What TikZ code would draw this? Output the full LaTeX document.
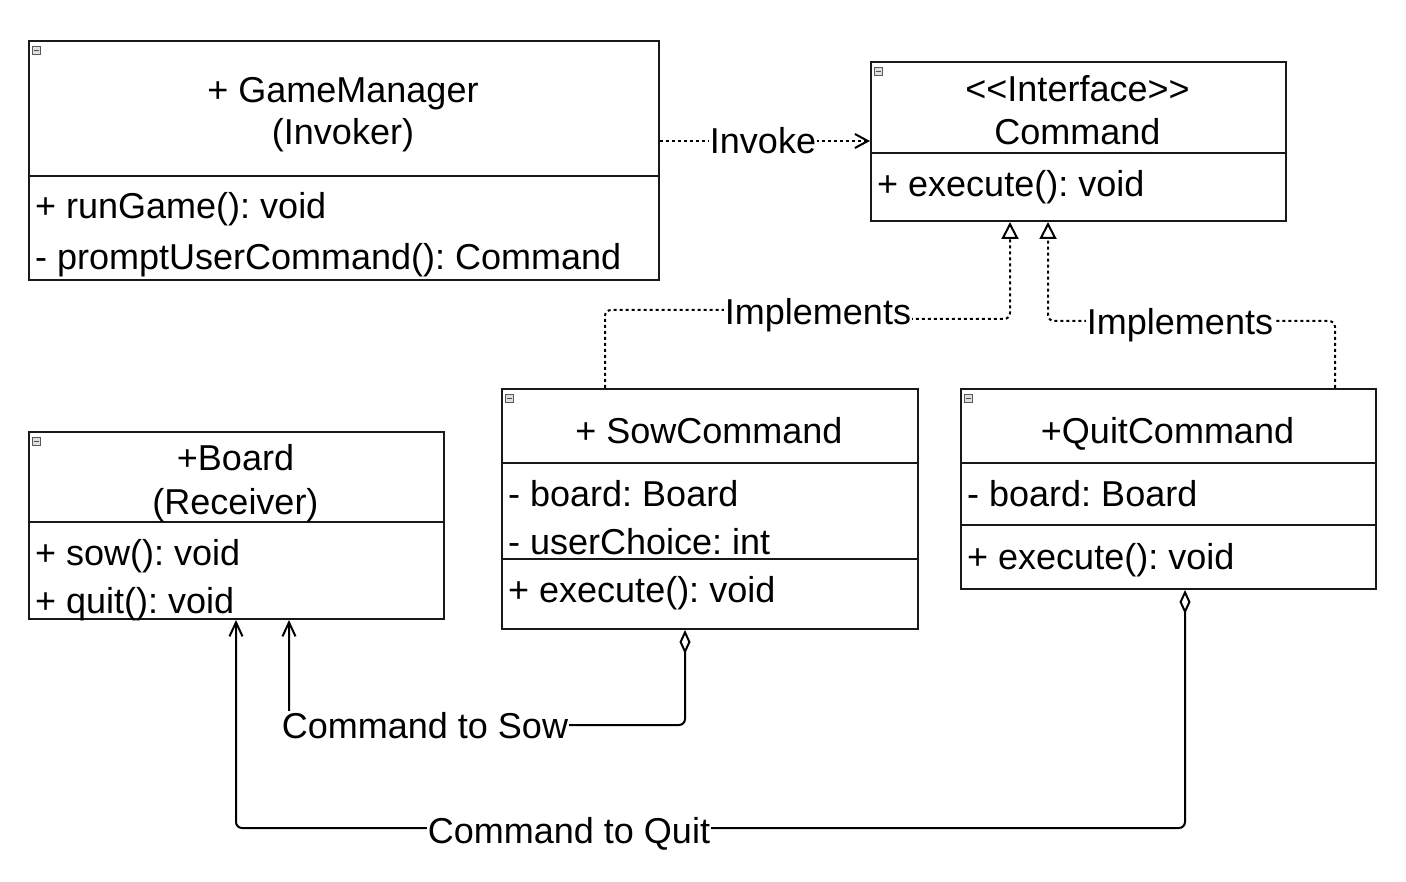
\documentclass[tikz,border=0pt]{standalone}
\usepackage{fontspec}
\setmainfont{Liberation Sans}
\frenchspacing
\usetikzlibrary{arrows.meta,calc}
\begin{document}
\begin{tikzpicture}[x=1pt,y=-1pt,
  umlbox/.style={draw=black!90,line width=2pt,anchor=north west,inner sep=0pt},
  sepline/.style={draw=black!90,line width=2pt},
  txt/.style={font=\fontsize{36}{43}\selectfont,inner sep=0pt},
  ctxt/.style={txt,anchor=base},
  ltxt/.style={txt,anchor=base west},
  lbl/.style={font=\fontsize{36}{43}\selectfont,fill=white,inner sep=1pt,text height=26pt,text depth=0pt},
  dotline/.style={line width=2pt,dash pattern=on 3pt off 3pt,rounded corners=6pt},
  solidline/.style={line width=2pt,rounded corners=6pt},
  icon/.style={draw=gray!70!black,fill=gray!25,line width=0.7pt,minimum size=8pt,inner sep=0pt,anchor=north west},
  openv/.style={-{Straight Barb[length=13pt,width=14pt,line width=2pt]}},
  impltip/.style={-{Triangle[open,length=17pt,width=17pt,line width=2pt]}},
  aggtip/.style={{Diamond[open,length=24pt,width=11pt,line width=2pt]}-{Straight Barb[length=14pt,width=13pt,line width=2pt]}}
]
\useasboundingbox[fill=white] (0,0) rectangle (1406,882);

% ---- boxes ----
\node[umlbox,minimum width=630pt,minimum height=239pt] (gm) at (28,40) {};
\draw[sepline] ($(gm.north west)+(0,136)$) -- ($(gm.north east)+(0,136)$);
\node[umlbox,minimum width=415pt,minimum height=159pt] (cmd) at (870,61) {};
\draw[sepline] ($(cmd.north west)+(0,92)$) -- ($(cmd.north east)+(0,92)$);
\node[umlbox,minimum width=416pt,minimum height=240pt] (sow) at (501,388) {};
\draw[sepline] ($(sow.north west)+(0,75)$) -- ($(sow.north east)+(0,75)$);
\draw[sepline] ($(sow.north west)+(0,171)$) -- ($(sow.north east)+(0,171)$);
\node[umlbox,minimum width=415pt,minimum height=200pt] (quit) at (960,388) {};
\draw[sepline] ($(quit.north west)+(0,75)$) -- ($(quit.north east)+(0,75)$);
\draw[sepline] ($(quit.north west)+(0,137)$) -- ($(quit.north east)+(0,137)$);
\node[umlbox,minimum width=415pt,minimum height=187pt] (board) at (28,431) {};
\draw[sepline] ($(board.north west)+(0,91)$) -- ($(board.north east)+(0,91)$);

% ---- collapse icons ----
\foreach \b/\n in {gm/igm,cmd/icmd,sow/isow,quit/iquit,board/iboard}{
  \node[icon] (\n) at ($(\b.north west)+(4,6)$) {};
  \draw[line width=0.9pt,black!70] ($(\n.west)+(2,0)$) -- ($(\n.east)+(-2,0)$);
}

% ---- texts ----
\node[ctxt] (gmt1) at (343,103) {+ GameManager};
\node[ctxt] (gmt2) at (343,145) {(Invoker)};
\node[ltxt] (gma1) at (35,219) {+ runGame(): void};
\node[ltxt] (gma2) at (35,270) {- promptUserCommand(): Command};

\node[ctxt] (cmt1) at (1077.5,102) {<{}<Interface>{}>};
\node[ctxt] (cmt2) at (1077.5,145) {Command};
\node[ltxt] (cma1) at (877,197) {+ execute(): void};

\node[ctxt] (swt1) at (709,443) {+ SowCommand};
\node[ltxt] (swa1) at (508,506) {- board: Board};
\node[ltxt] (swa2) at (508,554) {- userChoice: int};
\node[ltxt] (swm1) at (508,602) {+ execute(): void};

\node[ctxt] (qtt1) at (1167.5,443) {+QuitCommand};
\node[ltxt] (qta1) at (967,506) {- board: Board};
\node[ltxt] (qtm1) at (967,569) {+ execute(): void};

\node[ctxt] (bdt1) at (235.5,471) {+Board};
\node[ctxt] (bdt2) at (235.5,514) {(Receiver)};
\node[ltxt] (bdm1) at (35,565) {+ sow(): void};
\node[ltxt] (bdm2) at (35,613) {+ quit(): void};

% ---- connectors ----
% Invoke
\coordinate (invc) at (763,141);
\draw[dotline,openv] (gm.east |- invc) -- (cmd.west |- invc);
\node[lbl] (invl) at (invc) {Invoke};

% Implements (SowCommand)
\coordinate (im1) at (818,312);
\draw[dotline,impltip] ($(sow.north west)+(104,0)$) -- (605,310) -- (818,310) -- (818,319) -- (1010,319) -- ($(cmd.south west)+(140,0)$);
\node[lbl] (im1l) at (im1) {Implements};

% Implements (QuitCommand)
\coordinate (im2) at (1180,322);
\draw[dotline,impltip] ($(quit.north west)+(375,0)$) -- (1335,321) -- (1048,321) -- ($(cmd.south west)+(178,0)$);
\node[lbl] (im2l) at (im2) {Implements};

% Command to Sow
\coordinate (cs) at (425,725);
\draw[solidline,aggtip] ($(sow.south west)+(184,0)$) -- (685,725) -- (289,725) -- ($(board.south west)+(261,0)$);
\node[lbl] (csl) at (cs) {Command to Sow};

% Command to Quit
\coordinate (cq) at (569,830);
\draw[solidline,aggtip] ($(quit.south west)+(225,0)$) -- (1185,828) -- (236,828) -- ($(board.south west)+(208,0)$);
\node[lbl] (cql) at (cq) {Command to Quit};
\end{tikzpicture}
\end{document}
